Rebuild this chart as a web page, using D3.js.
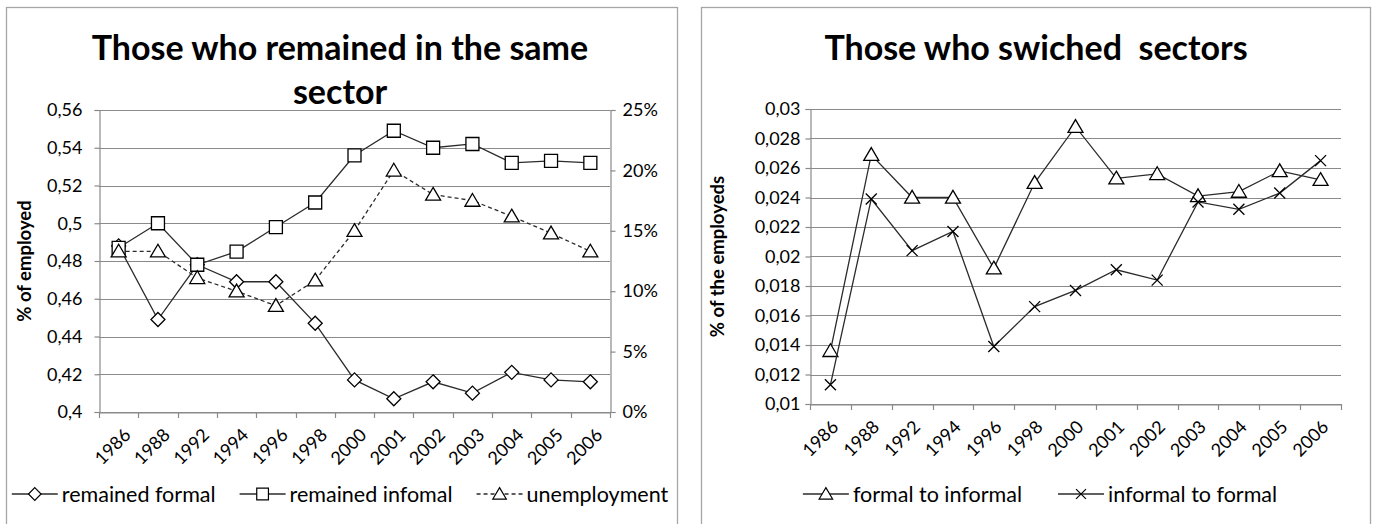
<!DOCTYPE html>
<html><head><meta charset="utf-8">
<script src="https://cdn.jsdelivr.net/npm/d3@7"></script>
<style>
body{margin:0;background:#fff;}
text{font-family:Lato,"Open Sans",sans-serif;fill:#000;white-space:pre;}
</style></head>
<body>
<svg id="c" width="1375" height="524"></svg>
<script>
const years = ["1986","1988","1992","1994","1996","1998","2000","2001","2002","2003","2004","2005","2006"];
const remainedFormal   = [0.488,0.449,0.478,0.469,0.469,0.447,0.417,0.407,0.416,0.410,0.421,0.417,0.416];
const remainedInformal = [0.487,0.500,0.478,0.485,0.498,0.511,0.536,0.549,0.540,0.542,0.532,0.533,0.532];
const unemployment     = [0.133,0.133,0.111,0.100,0.088,0.109,0.150,0.200,0.180,0.175,0.162,0.148,0.133];
const formalToInformal = [0.0136,0.0269,0.0240,0.0240,0.0192,0.0250,0.0288,0.0253,0.0256,0.0241,0.0244,0.0258,0.0252];
const informalToFormal = [0.0113,0.0239,0.0204,0.0217,0.0139,0.0166,0.0177,0.0191,0.0184,0.0237,0.0232,0.0243,0.0265];
const leftTicks  = [0.40,0.42,0.44,0.46,0.48,0.50,0.52,0.54,0.56];
const rightPctTicks = [0,0.05,0.10,0.15,0.20,0.25];
const switchTicks = [0.010,0.012,0.014,0.016,0.018,0.020,0.022,0.024,0.026,0.028,0.030];

const svg = d3.select("#c");
const GRID = "#8a8a8a", FRAME = "#a6a6a6", LINE = "#2b2b2b";
const fmtComma = v => d3.format("~")(+v.toFixed(4)).replace(".", ",");

function markerPath(type, s){
  const h = s/2;
  if(type==="diamond") return `M0,${-h}L${h},0L0,${h}L${-h},0Z`;
  if(type==="square")  return `M${-h},${-h}H${h}V${h}H${-h}Z`;
  if(type==="triangle") return `M0,${-h*0.95}L${h},${h*0.75}L${-h},${h*0.75}Z`;
  if(type==="x") return `M${-h},${-h}L${h},${h}M${h},${-h}L${-h},${h}`;
}
const msize = {diamond:14, square:13, triangle:15, x:11};

function frame(x0,x1){
  svg.append("rect").attr("x",x0+0.5).attr("y",7.5).attr("width",x1-x0).attr("height",560)
    .attr("fill","#fff").attr("stroke",FRAME).attr("stroke-width",1.3);
}

function drawChart(cfg){
  const x = d3.scaleBand().domain(years).range([cfg.x0,cfg.x1]);
  const y = d3.scaleLinear().domain(cfg.yDomain).range([cfg.y1,cfg.y0]);
  const g = svg.append("g");
  g.selectAll(".grid").data(cfg.yTicks).join("line")
    .attr("x1",cfg.x0).attr("x2",cfg.x1).attr("y1",d=>Math.round(y(d))+0.5).attr("y2",d=>Math.round(y(d))+0.5)
    .attr("stroke",GRID).attr("stroke-width",1.2);
  const ya = d3.axisLeft(y).tickValues(cfg.yTicks).tickSize(5).tickPadding(cfg.yPad).tickFormat(fmtComma);
  const yg = g.append("g").attr("transform",`translate(${cfg.x0+0.5},0)`).call(ya);
  yg.select(".domain").attr("stroke",GRID).attr("stroke-width",1.2);
  yg.selectAll(".tick line").attr("stroke",GRID).attr("stroke-width",1.2);
  yg.selectAll("text").attr("font-size",cfg.tickFont).attr("font-family","Lato").attr("fill","#000");
  const xa = d3.axisBottom(x).tickSize(0).tickFormat("");
  const xg = g.append("g").attr("transform",`translate(0,${cfg.y1+0.5})`).call(xa);
  xg.select(".domain").attr("stroke",GRID).attr("stroke-width",1.2);
  const bounds = years.map(d=>x(d)).concat([cfg.x1]);
  g.selectAll(".xt").data(bounds).join("line")
    .attr("x1",d=>Math.round(d)+0.5).attr("x2",d=>Math.round(d)+0.5).attr("y1",cfg.y1).attr("y2",cfg.y1+6)
    .attr("stroke",GRID).attr("stroke-width",1.2);
  g.selectAll(".xl").data(years).join("text")
    .attr("transform",d=>`translate(${x(d)+x.bandwidth()/2+cfg.xlDx},${cfg.y1+15}) rotate(-45)`)
    .attr("text-anchor","end").attr("dy","0.72em").attr("font-size",cfg.xFont).text(d=>d);
  g.append("text").attr("transform",`translate(${cfg.ytX},${(cfg.y0+cfg.y1)/2}) rotate(-90)`)
    .attr("text-anchor","middle").attr("font-size",18.5).attr("font-weight","bold").text(cfg.yTitle);
  cfg.title.forEach((t,i)=>{
    g.append("text").attr("x",cfg.titleX).attr("y",60+i*44).attr("text-anchor","middle")
      .attr("font-size",34).attr("font-weight","bold").text(t);
  });
  return {x,y,g};
}

function drawSeries(c, yScale, values, type, dashed){
  const pts = values.map((v,i)=>[c.x(years[i])+c.x.bandwidth()/2, yScale(v)]);
  c.g.append("path").attr("d",d3.line()(pts)).attr("fill","none").attr("stroke",LINE)
    .attr("stroke-width",1.3).attr("stroke-dasharray",dashed?"4,3":null);
  c.g.selectAll(null).data(pts).join("path")
    .attr("transform",d=>`translate(${d[0]},${d[1]})`)
    .attr("d",markerPath(type,msize[type]))
    .attr("fill",type==="x"?"none":"#fff").attr("stroke","#000").attr("stroke-width",1.3);
}

function legend(items, cx, cy, gap){
  const g = svg.append("g");
  let xpos = 0;
  const SYM = 46;
  items.forEach(it=>{
    const ig = g.append("g").attr("transform",`translate(${xpos},0)`);
    ig.append("line").attr("x1",0).attr("x2",SYM).attr("y1",0).attr("y2",0)
      .attr("stroke",LINE).attr("stroke-width",1.3).attr("stroke-dasharray",it.dashed?"4,3":null);
    ig.append("path").attr("transform",`translate(${SYM/2},0)`).attr("d",markerPath(it.type,msize[it.type]*0.9))
      .attr("fill",it.type==="x"?"none":"#fff").attr("stroke","#000").attr("stroke-width",1.2);
    const t = ig.append("text").attr("x",SYM+4).attr("y",0).attr("dy","0.35em").attr("font-size",21.5).text(it.label);
    xpos += SYM + 4 + t.node().getComputedTextLength() + gap;
  });
  const w = xpos - gap;
  g.attr("transform",`translate(${cx - w/2},${cy})`);
}

// ---------- Left chart ----------
frame(6,677);
const L = drawChart({x0:99,x1:610,y0:110,y1:412,yDomain:[0.40,0.56],yTicks:leftTicks,yPad:12,
  tickFont:18,xFont:18,xlDx:4,ytX:31,yTitle:"% of employed",titleX:340,
  title:["Those who remained in the same","sector"]});
const y2 = d3.scaleLinear().domain([0,0.25]).range([412,110]);
const ra = d3.axisRight(y2).tickValues(rightPctTicks).tickSize(5).tickPadding(7).tickFormat(d3.format(".0%"));
const rg = L.g.append("g").attr("transform",`translate(${610+0.5},0)`).call(ra);
rg.select(".domain").attr("stroke",GRID).attr("stroke-width",1.2);
rg.selectAll(".tick line").attr("stroke",GRID).attr("stroke-width",1.2);
rg.selectAll("text").attr("font-size",18).attr("font-family","Lato").attr("fill","#000");
drawSeries(L, L.y, remainedFormal, "diamond", false);
drawSeries(L, L.y, remainedInformal, "square", false);
drawSeries(L, y2, unemployment, "triangle", true);
legend([{label:"remained formal",type:"diamond"},{label:"remained infomal",type:"square"},
        {label:"unemployment",type:"triangle",dashed:true}], 340, 494, 24);

// ---------- Right chart ----------
frame(701,1370);
const R = drawChart({x0:810,x1:1341,y0:109,y1:404,yDomain:[0.010,0.030],yTicks:switchTicks,yPad:5,
  tickFont:18,xFont:18,xlDx:0,ytX:724,yTitle:"% of the employeds",titleX:1036,
  title:["Those who swiched  sectors"]});
drawSeries(R, R.y, formalToInformal, "triangle", false);
drawSeries(R, R.y, informalToFormal, "x", false);
legend([{label:"formal to informal",type:"triangle"},{label:"informal to formal",type:"x"}], 1040, 494, 36);
</script>
</body></html>
